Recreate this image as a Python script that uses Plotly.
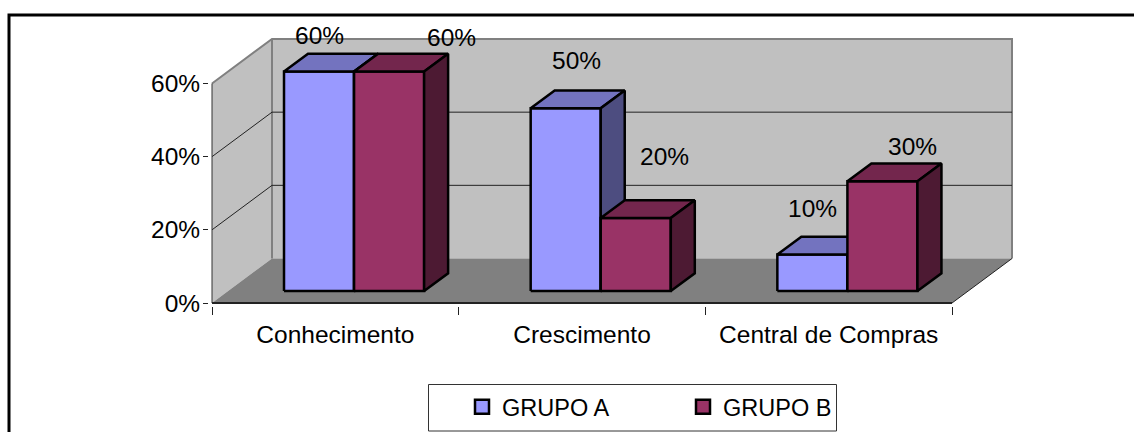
import plotly.graph_objects as go

# Survey results by group
categories = ["Conhecimento", "Crescimento", "Central de Compras"]
grupo_a = [60, 50, 10]
grupo_b = [60, 20, 30]
value_ticks = [0, 20, 40, 60]

W, H = 1134, 432
X0_PX, X1_PX = 212, 952
Y0_PX, Y60_PX = 303, 83.5
DEPTH_X_PX, DEPTH_Y_PX = 60, 44.5

# Oblique projection of the depth axis, in axis units
UNIT_PX = (X1_PX - X0_PX) / 3
PCT_PX = (Y0_PX - Y60_PX) / 60
DEPTH_X = DEPTH_X_PX / UNIT_PX
DEPTH_Y = DEPTH_Y_PX / PCT_PX

# Room around the projected box so its edge lines are not clipped
PAD_PX = 3

BAR_NEAR, BAR_FAR = 0.267, 0.667
BAR_START, BAR_WIDTH = 0.227, 0.284

FONT = "Liberation Sans"
FS = 24.5
LEGEND_FS = 23.5
WALL, FLOOR, EDGE = "#c0c0c0", "#808080", "#808080"
A_FACES = ("#9999ff", "#7373bf", "#4d4d80")
B_FACES = ("#993366", "#73264d", "#4d1a33")

# Data-label nudges in pixels, one per bar
A_NUDGE = [(-12, 27), (-1, 39), (-12, 37)]
B_NUDGE = [(50, 25), (17, 53), (18, 26)]


def proj(u, depth, v):
    return u + depth * DEPTH_X, v + depth * DEPTH_Y


def poly(points, fill, line_color="black", line_width=2.5):
    pts = [proj(*p) for p in points]
    pts.append(pts[0])
    return go.Scatter(
        x=[p[0] for p in pts], y=[p[1] for p in pts],
        mode="lines", fill="toself", fillcolor=fill,
        line=dict(color=line_color, width=line_width),
        hoverinfo="skip", showlegend=False,
    )


def seg(points, color, width):
    pts = [proj(*p) for p in points]
    return go.Scatter(
        x=[p[0] for p in pts], y=[p[1] for p in pts],
        mode="lines", line=dict(color=color, width=width),
        hoverinfo="skip", showlegend=False,
    )


def bar(u0, u1, value, faces):
    front, top, side = faces
    return [
        poly([(u0, BAR_NEAR, 0), (u1, BAR_NEAR, 0), (u1, BAR_NEAR, value), (u0, BAR_NEAR, value)], front),
        poly([(u0, BAR_NEAR, value), (u1, BAR_NEAR, value), (u1, BAR_FAR, value), (u0, BAR_FAR, value)], top),
        poly([(u1, BAR_NEAR, 0), (u1, BAR_FAR, 0), (u1, BAR_FAR, value), (u1, BAR_NEAR, value)], side),
    ]


fig = go.Figure()
n = len(categories)
vmax = max(value_ticks)

# Walls and floor
fig.add_trace(poly([(0, 0, 0), (0, 1, 0), (0, 1, vmax), (0, 0, vmax)], WALL, WALL, 0))
fig.add_trace(poly([(0, 1, 0), (n, 1, 0), (n, 1, vmax), (0, 1, vmax)], WALL, WALL, 0))
fig.add_trace(poly([(0, 0, 0), (n, 0, 0), (n, 1, 0), (0, 1, 0)], FLOOR, FLOOR, 0))
fig.add_trace(seg([(0, 0, vmax), (0, 1, vmax), (n, 1, vmax), (n, 1, 0)], EDGE, 2))
fig.add_trace(seg([(0, 1, vmax), (0, 1, 0)], EDGE, 2))
fig.add_trace(seg([(n, 0, 0), (n, 1, 0)], "#222222", 1))

# Gridlines across both walls
for t in value_ticks[1:-1]:
    fig.add_trace(seg([(0, 0, t), (0, 1, t), (n, 1, t)], "#222222", 1))

# Axis lines along the front edges of the box
fig.add_trace(seg([(0, 0, vmax), (0, 0, 0)], "#333333", 1))
fig.add_trace(seg([(0, 0, 0), (n, 0, 0)], "#222222", 2))

# Bars, drawn back-to-front within each category
annotations = []
for i in range(n):
    u0 = i + BAR_START
    u1 = u0 + BAR_WIDTH
    u2 = u1 + BAR_WIDTH
    for t in bar(u0, u1, grupo_a[i], A_FACES) + bar(u1, u2, grupo_b[i], B_FACES):
        fig.add_trace(t)
    mid = (BAR_NEAR + BAR_FAR) / 2
    for uc, val, (dx, dy) in (
        ((u0 + u1) / 2, grupo_a[i], A_NUDGE[i]),
        ((u1 + u2) / 2, grupo_b[i], B_NUDGE[i]),
    ):
        x_, y_ = proj(uc, mid, val)
        annotations.append(dict(
            x=x_, y=y_, xref="x", yref="y", text=f"{val}%", showarrow=False,
            xshift=dx, yshift=dy, xanchor="center", yanchor="middle",
            font=dict(family=FONT, size=FS, color="black"),
        ))

# Legend entries
for name, faces in (("GRUPO A", A_FACES), ("GRUPO B", B_FACES)):
    fig.add_trace(go.Scatter(
        x=[None], y=[None], mode="markers", name=name,
        marker=dict(symbol="square", size=14, color=faces[0], line=dict(color="black", width=2.5)),
    ))


def px(x):
    return x / W


def py(y):
    return 1 - y / H


shapes = [
    # Chart frame
    dict(type="path", xref="paper", yref="paper", layer="below",
         path=f"M {px(9)},{py(440)} L {px(9)},{py(15)} L {px(1140)},{py(15)}",
         line=dict(color="black", width=3)),
    # Legend box
    dict(type="rect", xref="paper", yref="paper", layer="below",
         x0=px(428.5), x1=px(836.5), y0=py(431), y1=py(384.5),
         line=dict(color="#333333", width=1), fillcolor="white"),
]

fig.update_layout(
    width=W, height=H, autosize=False,
    margin=dict(l=0, r=0, t=0, b=0, autoexpand=False),
    paper_bgcolor="white", plot_bgcolor="rgba(0,0,0,0)",
    font=dict(family=FONT, size=FS, color="black"),
    shapes=shapes, annotations=annotations,
    # Axes span the whole projected box; ticks land on the front edges
    xaxis=dict(
        domain=[px(X0_PX - PAD_PX), px(X1_PX + DEPTH_X_PX + PAD_PX)],
        range=[-PAD_PX / UNIT_PX, n + DEPTH_X + PAD_PX / UNIT_PX],
        tickmode="array", tickvals=[i + 0.5 for i in range(n)], ticktext=categories,
        ticks="", ticklabelstandoff=11, showgrid=False, zeroline=False, showline=False,
        minor=dict(tickmode="array", tickvals=list(range(n + 1)), ticks="outside",
                   ticklen=8, tickcolor="#222222", tickwidth=1, showgrid=False),
    ),
    yaxis=dict(
        domain=[py(Y0_PX + PAD_PX), py(Y60_PX - DEPTH_Y_PX - PAD_PX)],
        range=[-PAD_PX / PCT_PX, vmax + DEPTH_Y + PAD_PX / PCT_PX],
        tickmode="array", tickvals=value_ticks, ticktext=[f"{t}%" for t in value_ticks],
        ticks="outside", ticklen=5, tickcolor="#222222", tickwidth=1,
        ticklabelstandoff=-2, showgrid=False, zeroline=False, showline=False,
    ),
    legend=dict(
        orientation="h", xref="paper", yref="paper",
        x=px(462), y=py(385), xanchor="left", yanchor="top",
        bgcolor="rgba(0,0,0,0)", borderwidth=0,
        entrywidth=176, entrywidthmode="pixels",
        font=dict(family=FONT, size=LEGEND_FS, color="black"),
    ),
)

fig.write_html("out.html")
